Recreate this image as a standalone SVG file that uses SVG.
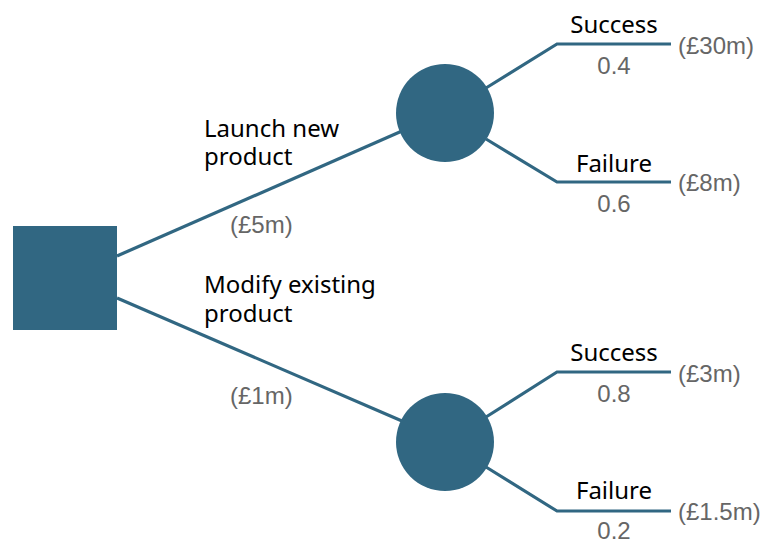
<svg xmlns="http://www.w3.org/2000/svg" width="764" height="542" viewBox="0 0 764 542">
<style>
.node{fill:#316782}
.edge{fill:none;stroke:#316782;stroke-width:3.2}
.lbl{font-family:"Noto Sans","DejaVu Sans",sans-serif;font-size:24px;fill:#000}
.val{font-family:"Liberation Sans",Arial,sans-serif;font-size:24px;fill:#666}
.mid{text-anchor:middle}
</style>
<rect width="764" height="542" fill="#fff"/>
<g id="connectors">
<line class="edge" x1="117" y1="256" x2="402" y2="131"/>
<line class="edge" x1="117" y1="298" x2="402" y2="421"/>
<polyline class="edge" points="486,88 557,44 671,44"/>
<polyline class="edge" points="486,139 557,182 671,182"/>
<polyline class="edge" points="486,417 557,372 671,372"/>
<polyline class="edge" points="486,467 557,511 671,511"/>
</g>
<g id="decision"><rect class="node" x="13" y="226" width="104" height="104"/></g>
<g id="chance1"><circle class="node" cx="445" cy="113" r="49"/></g>
<g id="chance2"><circle class="node" cx="445" cy="442" r="49"/></g>
<g id="labels">
<text class="lbl" x="204" y="137">Launch new<tspan x="204" y="165">product</tspan></text>
<text class="val" x="230" y="233">(£5m)</text>
<text class="lbl" x="204" y="293">Modify existing<tspan x="204" y="322">product</tspan></text>
<text class="val" x="230" y="404">(£1m)</text>
<text class="lbl mid" x="614" y="33">Success</text>
<text class="val mid" x="614" y="74">0.4</text>
<text class="val" x="678" y="54">(£30m)</text>
<text class="lbl mid" x="614" y="172">Failure</text>
<text class="val mid" x="614" y="212">0.6</text>
<text class="val" x="678" y="191">(£8m)</text>
<text class="lbl mid" x="614" y="361">Success</text>
<text class="val mid" x="614" y="402">0.8</text>
<text class="val" x="678" y="382">(£3m)</text>
<text class="lbl mid" x="614" y="499">Failure</text>
<text class="val mid" x="614" y="539">0.2</text>
<text class="val" x="678" y="520">(£1.5m)</text>
</g>
</svg>
